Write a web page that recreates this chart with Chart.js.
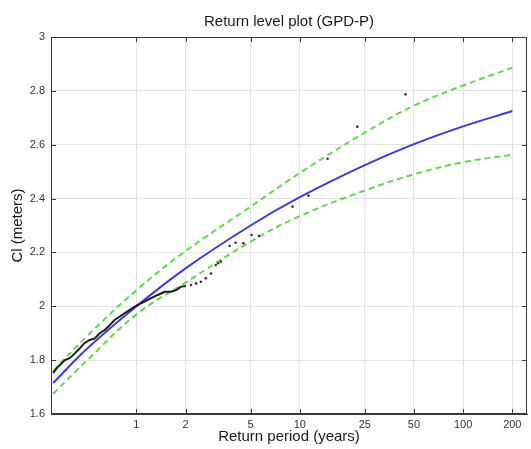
<!DOCTYPE html>
<html>
<head>
<meta charset="utf-8">
<script src="https://cdn.jsdelivr.net/npm/chart.js@4/dist/chart.umd.min.js"></script>
<style>
  html, body { margin: 0; padding: 0; background: #ffffff; }
  #wrap { width: 531px; height: 449px; }
</style>
</head>
<body>
<div id="wrap"><canvas id="c" width="531" height="449"></canvas></div>
<script>
// ---- data ----
const chartTitle = "Return level plot (GPD-P)";
const xTitle = "Return period (years)";
const yTitle = "Cl (meters)";

const xTickValues = [1, 2, 5, 10, 25, 50, 100, 200];
const xTickLabels = ["1", "2", "5", "10", "25", "50", "100", "200"];
const yTickValues = [1.6, 1.8, 2.0, 2.2, 2.4, 2.6, 2.8, 3.0];
const yTickLabels = ["1.6", "1.8", "2", "2.2", "2.4", "2.6", "2.8", "3"];

// fitted return level curve and confidence bounds
const curvePeriods = [0.309, 0.5, 1, 2, 5, 10, 25, 50, 100, 200];
const fittedLevel  = [1.715, 1.843, 2.0, 2.141, 2.30, 2.405, 2.524, 2.602, 2.668, 2.725];
const upperBound   = [1.76, 1.89, 2.06, 2.205, 2.37, 2.495, 2.645, 2.745, 2.82, 2.886];
const lowerBound   = [1.675, 1.80, 1.97, 2.088, 2.24, 2.335, 2.43, 2.49, 2.535, 2.563];

// observed data: dense part (shown as a continuous trace)
const obsDensePeriods = [0.309, 0.33, 0.34, 0.365, 0.39, 0.42, 0.45, 0.48, 0.518, 0.556, 0.596, 0.64, 0.686, 0.735, 0.788, 0.845, 0.906, 0.972, 1.02, 1.12, 1.23, 1.35, 1.49, 1.63, 1.75, 1.88, 2.01];
const obsDenseLevels  = [1.752, 1.775, 1.782, 1.80, 1.807, 1.825, 1.844, 1.863, 1.875, 1.881, 1.90, 1.912, 1.93, 1.949, 1.961, 1.974, 1.986, 1.998, 2.005, 2.017, 2.03, 2.042, 2.054, 2.054, 2.06, 2.073, 2.075];
// observed data: sparse points
const obsSparsePeriods = [2.16, 2.32, 2.48, 2.66, 2.86, 3.06, 3.17, 3.29, 3.72, 4.05, 4.52, 5.07, 5.62, 9.04, 11.3, 14.8, 22.5, 44.4];
const obsSparseLevels  = [2.079, 2.085, 2.091, 2.104, 2.122, 2.153, 2.16, 2.166, 2.224, 2.236, 2.234, 2.265, 2.261, 2.37, 2.411, 2.548, 2.667, 2.787];

const xMin = 0.309, xMax = 246;
const yMin = 1.6, yMax = 3.0;

// ---- build datasets ----
const pts = (xs, ys) => xs.map((x, i) => ({ x: x, y: ys[i] }));

const FONT = "'Liberation Sans', Arial, Helvetica, sans-serif";

const framePlugin = {
  id: 'frame',
  afterDraw(chart) {
    const { ctx, chartArea: a, scales } = chart;
    ctx.save();
    ctx.strokeStyle = '#3a3a3a';
    ctx.lineWidth = 1;
    ctx.strokeRect(a.left + 0.5, a.top + 0.5, a.right - a.left - 1, a.bottom - a.top - 1);
    // inward tick marks
    const tl = 5;
    ctx.beginPath();
    xTickValues.forEach(v => {
      const px = Math.round(scales.x.getPixelForValue(v)) + 0.5;
      ctx.moveTo(px, a.bottom); ctx.lineTo(px, a.bottom - tl);
      ctx.moveTo(px, a.top); ctx.lineTo(px, a.top + tl);
    });
    yTickValues.forEach(v => {
      const py = Math.round(scales.y.getPixelForValue(v)) + 0.5;
      ctx.moveTo(a.left, py); ctx.lineTo(a.left + tl, py);
      ctx.moveTo(a.right, py); ctx.lineTo(a.right - tl, py);
    });
    ctx.stroke();
    // title centred over the plot area
    ctx.fillStyle = '#1a1a1a';
    ctx.font = '15px ' + FONT;
    ctx.textAlign = 'center';
    ctx.textBaseline = 'middle';
    ctx.fillText(chartTitle, (a.left + a.right) / 2, 22);
    ctx.restore();
  }
};

new Chart(document.getElementById('c'), {
  type: 'scatter',
  data: {
    datasets: [
      {
        label: 'Observed (dense)',
        data: pts(obsDensePeriods, obsDenseLevels),
        showLine: true,
        borderColor: '#1c1c1c',
        borderWidth: 2,
        pointRadius: 0,
        tension: 0
      },
      {
        label: 'Observed',
        data: pts(obsSparsePeriods, obsSparseLevels),
        showLine: false,
        backgroundColor: '#333333',
        borderColor: '#333333',
        pointRadius: 1.3,
        pointBorderWidth: 0
      },
      {
        label: 'Return level',
        data: pts(curvePeriods, fittedLevel),
        showLine: true,
        borderColor: '#3b3be0',
        borderWidth: 2,
        pointRadius: 0,
        tension: 0.4
      },
      {
        label: 'Upper bound',
        data: pts(curvePeriods, upperBound),
        showLine: true,
        borderColor: '#5cdb48',
        borderWidth: 2,
        borderDash: [6, 4],
        pointRadius: 0,
        tension: 0.4
      },
      {
        label: 'Lower bound',
        data: pts(curvePeriods, lowerBound),
        showLine: true,
        borderColor: '#5cdb48',
        borderWidth: 2,
        borderDash: [6, 4],
        pointRadius: 0,
        tension: 0.4
      }
    ]
  },
  options: {
    responsive: false,
    devicePixelRatio: 1,
    animation: false,
    layout: { padding: { top: 37, right: 2, bottom: 0, left: 0 } },
    plugins: {
      legend: { display: false },
      tooltip: { enabled: false },
      title: { display: false }
    },
    scales: {
      x: {
        type: 'logarithmic',
        min: xMin,
        max: xMax,
        afterFit: (s) => { s.height = 35; },
        afterBuildTicks: (s) => { s.ticks = xTickValues.map(v => ({ value: v })); },
        ticks: {
          autoSkip: false,
          maxRotation: 0,
          padding: 4,
          color: '#333333',
          font: { family: FONT, size: 11 },
          callback: (v, i) => xTickLabels[i]
        },
        grid: { color: '#e2e2e2', lineWidth: 1, drawTicks: false },
        border: { display: true, color: '#3a3a3a' },
        title: {
          display: true,
          text: xTitle,
          color: '#1a1a1a',
          font: { family: FONT, size: 15 },
          padding: { top: 0, bottom: 3 }
        }
      },
      y: {
        type: 'linear',
        min: yMin,
        max: yMax,
        afterFit: (s) => { s.width = 51; },
        afterBuildTicks: (s) => { s.ticks = yTickValues.map(v => ({ value: v })); },
        ticks: {
          padding: 6,
          color: '#333333',
          font: { family: FONT, size: 11 },
          callback: (v, i) => yTickLabels[i]
        },
        grid: { color: '#e2e2e2', lineWidth: 1, drawTicks: false },
        border: { display: true, color: '#3a3a3a' },
        title: {
          display: true,
          text: yTitle,
          color: '#1a1a1a',
          font: { family: FONT, size: 15 },
          padding: { top: 9, bottom: 0 }
        }
      }
    }
  },
  plugins: [framePlugin]
});
</script>
</body>
</html>
